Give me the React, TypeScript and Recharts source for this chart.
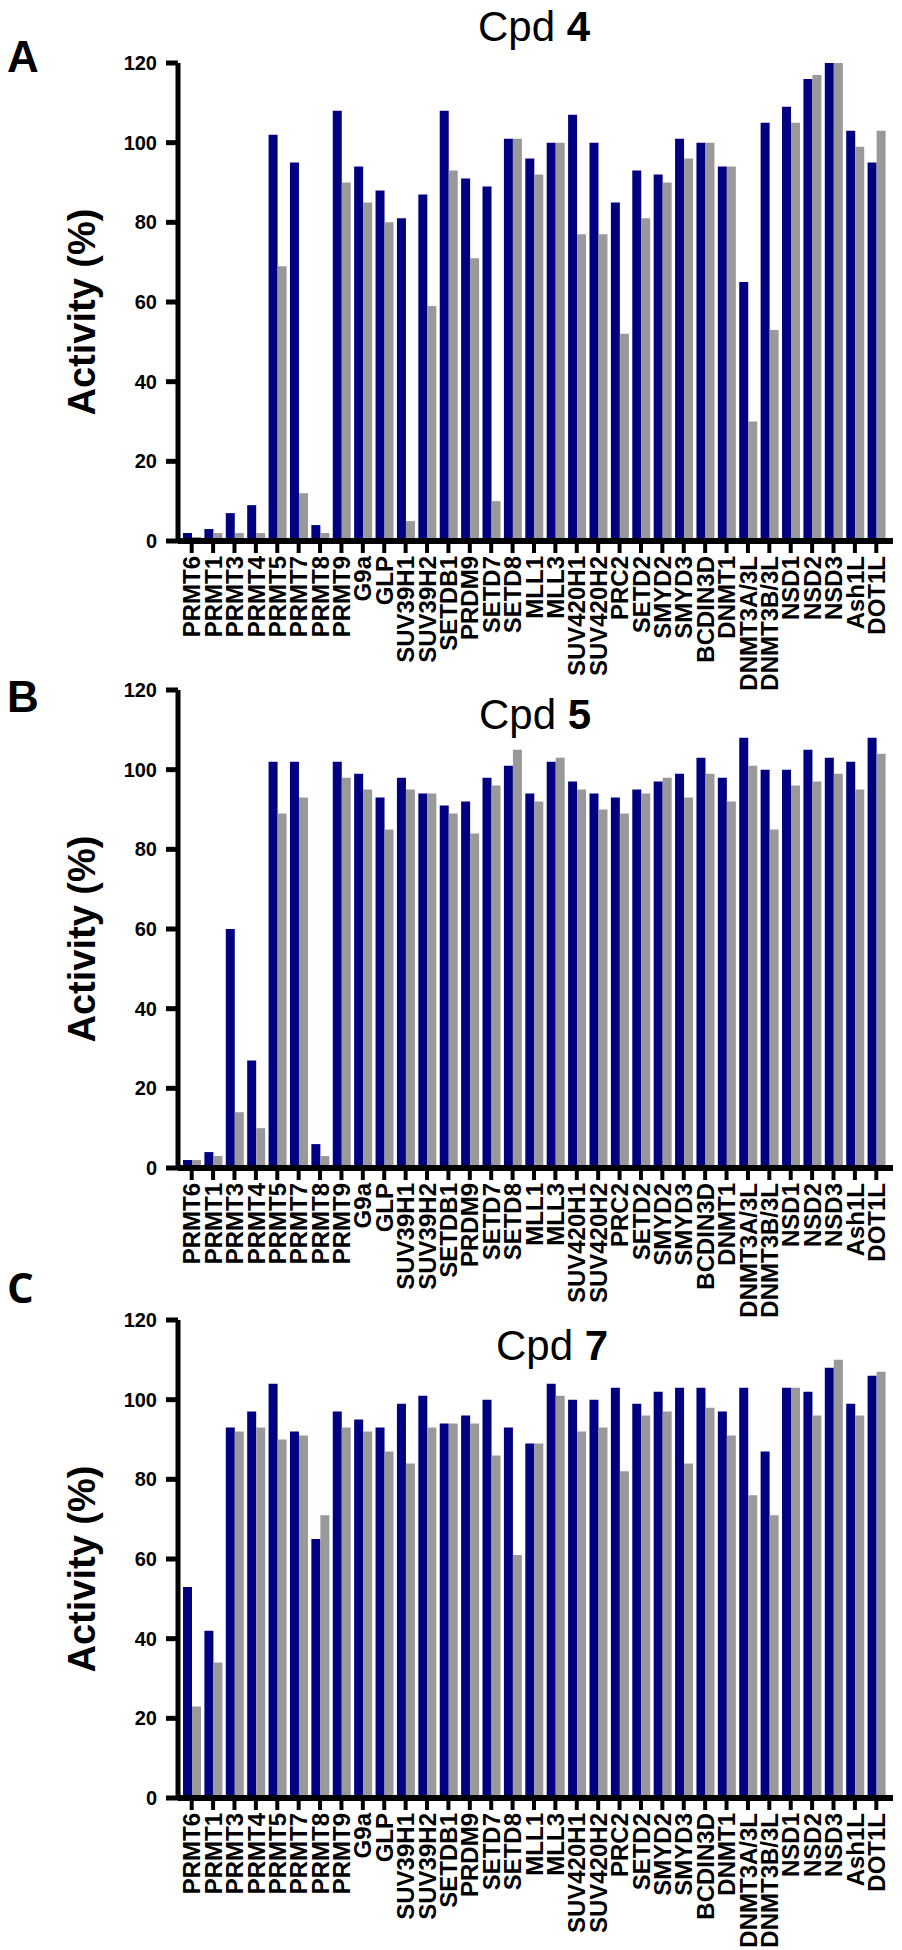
import { BarChart, Bar, XAxis, YAxis } from "recharts";

const ENZYMES = [
  "PRMT6", "PRMT1", "PRMT3", "PRMT4", "PRMT5", "PRMT7", "PRMT8", "PRMT9",
  "G9a", "GLP", "SUV39H1", "SUV39H2", "SETDB1", "PRDM9", "SETD7", "SETD8",
  "MLL1", "MLL3", "SUV420H1", "SUV420H2", "PRC2", "SETD2", "SMYD2", "SMYD3",
  "BCDIN3D", "DNMT1", "DNMT3A/3L", "DNMT3B/3L", "NSD1", "NSD2", "NSD3", "Ash1L", "DOT1L",
];

// Cpd 4
const CPD4_DOSE1 = [2, 3, 7, 9, 102, 95, 4, 108, 94, 88, 81, 87, 108, 91, 89, 101, 96, 100, 107, 100, 85, 93, 92, 101, 100, 94, 65, 105, 109, 116, 120, 103, 95];
const CPD4_DOSE2 = [1, 2, 2, 2, 69, 12, 2, 90, 85, 80, 5, 59, 93, 71, 10, 101, 92, 100, 77, 77, 52, 81, 90, 96, 100, 94, 30, 53, 105, 117, 120, 99, 103];

// Cpd 5
const CPD5_DOSE1 = [2, 4, 60, 27, 102, 102, 6, 102, 99, 93, 98, 94, 91, 92, 98, 101, 94, 102, 97, 94, 93, 95, 97, 99, 103, 98, 108, 100, 100, 105, 103, 102, 108];
const CPD5_DOSE2 = [2, 3, 14, 10, 89, 93, 3, 98, 95, 85, 95, 94, 89, 84, 96, 105, 92, 103, 95, 90, 89, 94, 98, 93, 99, 92, 101, 85, 96, 97, 99, 95, 104];

// Cpd 7
const CPD7_DOSE1 = [53, 42, 93, 97, 104, 92, 65, 97, 95, 93, 99, 101, 94, 96, 100, 93, 89, 104, 100, 100, 103, 99, 102, 103, 103, 97, 103, 87, 103, 102, 108, 99, 106];
const CPD7_DOSE2 = [23, 34, 92, 93, 90, 91, 71, 93, 92, 87, 84, 93, 94, 94, 86, 61, 89, 101, 92, 93, 82, 96, 97, 84, 98, 91, 76, 71, 103, 96, 110, 96, 107];

const Y_TICKS = [0, 20, 40, 60, 80, 100, 120];

const FONT = "'Liberation Sans', Arial, Helvetica, sans-serif";
const NAVY = "#000080";
const GREY = "#999999";

const PLOT_H = 478;
const TOP_PAD = 70;
const AXIS_H = 200;

function XTick({ x, y, payload }: any) {
  return (
    <text
      transform={`translate(${x},${y}) rotate(-90)`}
      textAnchor="end"
      dy="0.36em"
      fontSize={24}
      fontWeight={700}
      fontFamily={FONT}
      fill="#000"
    >
      {payload.value}
    </text>
  );
}

function Panel({ plotTop, dose1, dose2 }: { plotTop: number; dose1: number[]; dose2: number[] }) {
  const data = ENZYMES.map((name, i) => ({ name, dose1: dose1[i], dose2: dose2[i] }));
  const h = TOP_PAD + PLOT_H + AXIS_H;
  return (
    <div style={{ position: "absolute", left: 0, top: plotTop - TOP_PAD, width: 902, height: h }}>
      <BarChart
        width={902}
        height={h}
        data={data}
        margin={{ top: TOP_PAD, right: 9, bottom: 0, left: 0 }}
        barCategoryGap={2}
        barGap={0}
      >
        <XAxis
          dataKey="name"
          interval={0}
          height={AXIS_H}
          padding={{ left: 3, right: 6 }}
          tickSize={12}
          tickMargin={3}
          axisLine={{ stroke: "#000", strokeWidth: 6 }}
          tickLine={{ stroke: "#000", strokeWidth: 4 }}
          tick={<XTick />}
        />
        <YAxis
          domain={[0, 120]}
          ticks={Y_TICKS}
          width={178}
          tickSize={12}
          tickMargin={9}
          axisLine={{ stroke: "#000", strokeWidth: 5 }}
          tickLine={{ stroke: "#000", strokeWidth: 5 }}
          tick={{ fill: "#000", fontSize: 20, fontWeight: 700, fontFamily: FONT }}
        />
        <Bar dataKey="dose1" fill={NAVY} isAnimationActive={false} />
        <Bar dataKey="dose2" fill={GREY} isAnimationActive={false} />
      </BarChart>
    </div>
  );
}

const PANELS = [
  { letter: "A", cpd: "4", plotTop: 63, dose1: CPD4_DOSE1, dose2: CPD4_DOSE2, titleX: 478, titleY: 41, letterY: 72 },
  { letter: "B", cpd: "5", plotTop: 690, dose1: CPD5_DOSE1, dose2: CPD5_DOSE2, titleX: 479, titleY: 729, letterY: 712 },
  { letter: "C", cpd: "7", plotTop: 1320, dose1: CPD7_DOSE1, dose2: CPD7_DOSE2, titleX: 496, titleY: 1360, letterY: 1303 },
];

export default function App() {
  return (
    <div style={{ position: "absolute", left: 0, top: 0, width: 902, height: 1950, background: "#fff" }}>
      {PANELS.map((p) => (
        <Panel key={p.letter} plotTop={p.plotTop} dose1={p.dose1} dose2={p.dose2} />
      ))}
      <svg
        width={902}
        height={1950}
        style={{ position: "absolute", left: 0, top: 0, pointerEvents: "none" }}
      >
        {PANELS.map((p) => (
          <g key={p.letter}>
            <text
              x={7}
              y={p.letterY}
              fontSize={p.letter === "C" ? 42 : 44}
              fontWeight={700}
              fontFamily={p.letter === "C" ? "'Open Sans', sans-serif" : FONT}
              fill="#000"
            >
              {p.letter}
            </text>
            <text x={p.titleX} y={p.titleY} fontSize={42} fontFamily={FONT} fill="#000">
              Cpd <tspan fontWeight={700}>{p.cpd}</tspan>
            </text>
            <text
              transform={`translate(82,${p.plotTop + PLOT_H / 2 + 10}) rotate(-90)`}
              textAnchor="middle"
              dy="0.35em"
              fontSize={38}
              fontWeight={700}
              fontFamily={FONT}
              fill="#000"
            >
              Activity (%)
            </text>
          </g>
        ))}
      </svg>
    </div>
  );
}
